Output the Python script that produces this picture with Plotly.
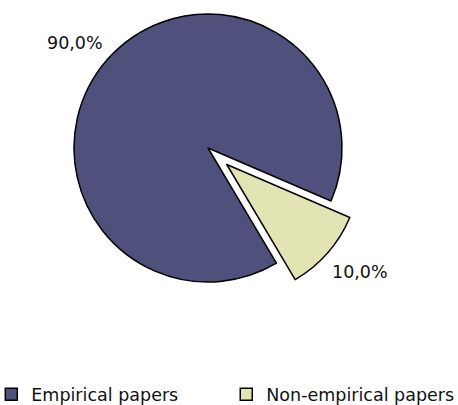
import math
import plotly.graph_objects as go

# ---- data ----
labels = ["Empirical papers", "Non-empirical papers"]
values = [90, 10]
colors = ["#50507c", "#e2e4b4"]

# ---- geometry / style ----
W, H = 458, 405
cx, cy, R = 208, 148, 134      # pie centre and radius in px
pull_px = 25                   # explosion distance of the small slice
rotation = 149.3               # start angle of first slice (clockwise from 12 o'clock)
FONT = "DejaVu Sans"
FS = 17.5

total = sum(values)
start2 = rotation + 360.0 * values[0] / total
bis = math.radians(start2 + 180.0 * values[1] / total)
dx = pull_px * math.sin(bis)
dy = -pull_px * math.cos(bis)


def dom(x, y, r):
    return dict(x=[(x - r) / W, (x + r) / W],
                y=[(H - (y + r)) / H, (H - (y - r)) / H])


clear = "rgba(0,0,0,0)"
fig = go.Figure()

# legend-only tiny pies (one per label), hidden under the main slice
legend_ids = ["legend", "legend2"]
for lab, val, col, lid in zip(labels, values, colors, legend_ids):
    fig.add_trace(go.Pie(
        labels=[lab], values=[val], sort=False,
        domain=dom(150, 100, 3), textinfo="none", hoverinfo="skip",
        marker=dict(colors=[col], line=dict(color="#000000", width=1.5)),
        showlegend=True, legend=lid,
    ))

# main (unexploded) slice
fig.add_trace(go.Pie(
    labels=labels, values=values, sort=False, direction="clockwise",
    rotation=rotation, domain=dom(cx, cy, R), textinfo="none",
    marker=dict(colors=[colors[0], clear],
                line=dict(color=["#000000", clear], width=[1.5, 0])),
    showlegend=False,
))

# exploded slice
fig.add_trace(go.Pie(
    labels=labels, values=values, sort=False, direction="clockwise",
    rotation=rotation, domain=dom(cx + dx, cy + dy, R), textinfo="none",
    marker=dict(colors=[clear, colors[1]],
                line=dict(color=[clear, "#000000"], width=[0, 1.5])),
    showlegend=False,
))


def pct(v):
    return f"{100.0 * v / total:.1f}".replace(".", ",") + "%"


label_pos = [(75, 43), (360, 272)]
for v, (px, py) in zip(values, label_pos):
    fig.add_annotation(
        text=pct(v), xref="paper", yref="paper",
        x=px / W, y=(H - py) / H, xanchor="center", yanchor="middle",
        showarrow=False, font=dict(family=FONT, size=FS, color="#111111"),
    )

leg_common = dict(
    orientation="h", xanchor="left", y=-0.018, yanchor="bottom",
    font=dict(family=FONT, size=FS, color="#111111"),
    bgcolor="rgba(0,0,0,0)",
)
fig.update_layout(
    width=W, height=H,
    margin=dict(l=0, r=0, t=0, b=0, autoexpand=False),
    paper_bgcolor="white", plot_bgcolor="white",
    showlegend=True,
    legend=dict(x=-0.019, **leg_common),
    legend2=dict(x=0.494, **leg_common),
)

fig.write_html("out.html")
